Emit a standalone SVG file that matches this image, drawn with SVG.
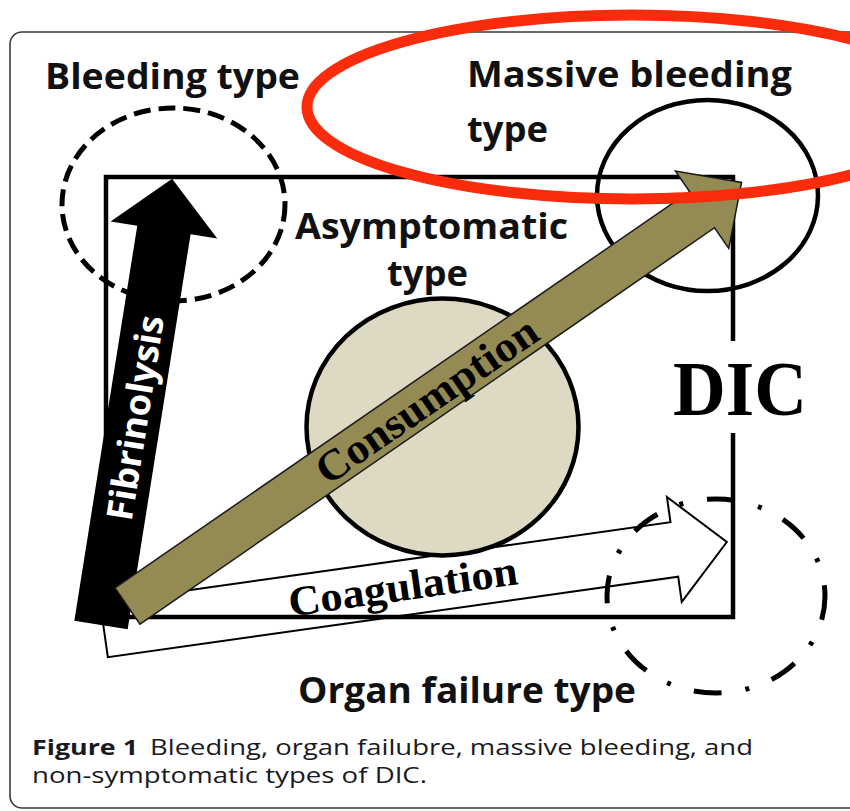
<svg xmlns="http://www.w3.org/2000/svg" width="850" height="811" viewBox="0 0 850 811">
<style>
.frame{fill:none;stroke:#3a3a3a;stroke-width:1.6}
.box{fill:none;stroke:#000;stroke-width:4.5}
.ring{fill:none;stroke:#000;stroke-width:4.5}
.dash{stroke-width:5;stroke-dasharray:17 8}
.dashdot{stroke-width:5;stroke-dasharray:28 24 4 24;stroke-dashoffset:4}
.lbl{font-family:"Open Sans","Liberation Sans",sans-serif;font-weight:bold;font-size:36px;fill:#111}
.ser{font-family:"Liberation Serif","Times New Roman",serif;font-weight:bold;fill:#000}
.cap{font-family:"Open Sans","Liberation Sans",sans-serif;font-size:22px;fill:#1a1a22}
</style>
<rect width="850" height="811" fill="#fff"/>
<rect class="frame" x="10" y="32" width="870" height="776" rx="12"/>

<g id="dic-box">
  <path class="box" d="M733,341 V177 H106 V617 H733 V433"/>
  <text class="ser" x="740" y="415" font-size="78" text-anchor="middle" textLength="134" lengthAdjust="spacingAndGlyphs">DIC</text>
</g>

<g id="bleeding-type">
  <ellipse class="ring dash" cx="173.5" cy="204.5" rx="111.5" ry="96.5"/>
  <text class="lbl" x="45" y="89" textLength="255" lengthAdjust="spacingAndGlyphs">Bleeding type</text>
</g>

<g id="organ-failure-type">
  <ellipse class="ring dashdot" cx="716" cy="596" rx="109" ry="97"/>
  <text class="lbl" x="298" y="703" textLength="338" lengthAdjust="spacingAndGlyphs">Organ failure type</text>
</g>

<g id="connectors">
  <g id="coagulation" transform="translate(104,630) rotate(-8.04)">
    <polygon points="0,-27.5 576,-27.5 576,-53 629,0 576,53 576,27.5 0,27.5" fill="none" stroke="#000" stroke-width="2"/>
    <text class="ser" x="302" y="12.6" font-size="42" text-anchor="middle" textLength="231" lengthAdjust="spacingAndGlyphs">Coagulation</text>
  </g>
</g>

<g id="asymptomatic-type">
  <ellipse cx="442.5" cy="427" rx="136" ry="128.5" fill="#ddd9c3" stroke="#000" stroke-width="4.5"/>
  <text class="lbl" x="295" y="239" font-size="33" textLength="273" lengthAdjust="spacingAndGlyphs">Asymptomatic</text>
  <text class="lbl" x="387" y="286" font-size="33" textLength="81" lengthAdjust="spacingAndGlyphs">type</text>
</g>

<g id="massive-bleeding-type">
  <ellipse class="ring" cx="707.5" cy="195.5" rx="110.5" ry="95.5"/>
  <text class="lbl" x="467" y="87" textLength="325" lengthAdjust="spacingAndGlyphs">Massive bleeding</text>
  <text class="lbl" x="467" y="142" textLength="81" lengthAdjust="spacingAndGlyphs">type</text>
</g>

<g id="connectors-top">
  <g id="fibrinolysis" transform="translate(101,625) rotate(-80.95)">
    <polygon points="0,-27 400,-27 400,-54 452,0 400,54 400,27 0,27" fill="#000"/>
    <text class="lbl" x="210" y="14" font-size="39" text-anchor="middle" style="fill:#fff" textLength="207" lengthAdjust="spacingAndGlyphs">Fibrinolysis</text>
  </g>
  <g id="consumption" transform="translate(127.5,606) rotate(-34.6)">
    <polygon points="0,-22 698,-22 698,-47 746,0 698,47 698,22 0,22" fill="#948a54" stroke="#1a1a1a" stroke-width="1.5"/>
    <text class="ser" x="363" y="15" font-size="43" text-anchor="middle" textLength="260" lengthAdjust="spacingAndGlyphs">Consumption</text>
  </g>
</g>

<ellipse id="highlight" cx="632" cy="107" rx="325" ry="92" fill="none" stroke="#fb2c0c" stroke-width="11"/>

<g id="caption">
  <text class="cap" x="32" y="755" font-weight="bold" textLength="106" lengthAdjust="spacingAndGlyphs">Figure 1</text>
  <text class="cap" x="150" y="755" textLength="603" lengthAdjust="spacingAndGlyphs">Bleeding, organ failubre, massive bleeding, and</text>
  <text class="cap" x="32" y="783" textLength="395" lengthAdjust="spacingAndGlyphs">non-symptomatic types of DIC.</text>
</g>
</svg>
